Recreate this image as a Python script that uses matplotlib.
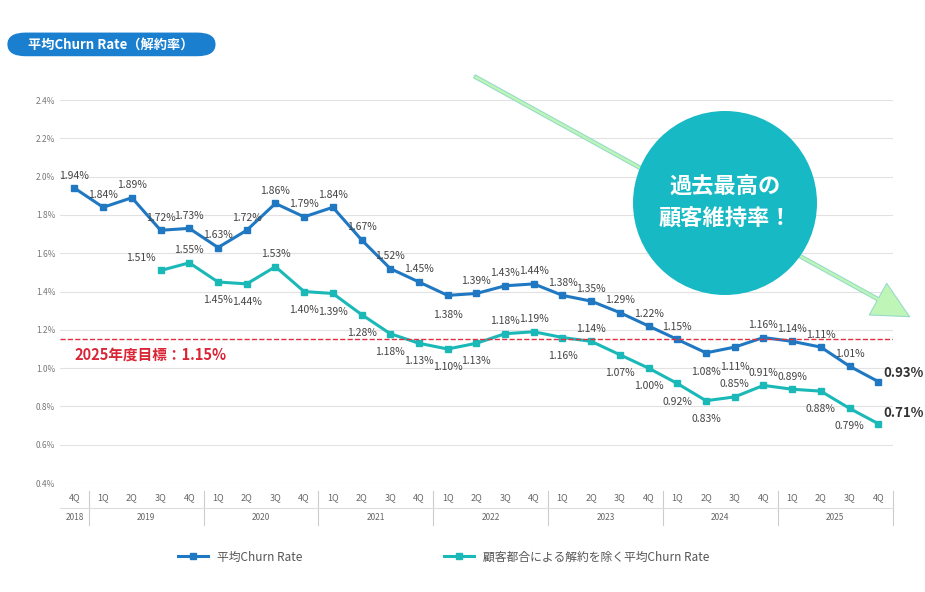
import matplotlib
matplotlib.use("Agg")
import matplotlib.pyplot as plt
from matplotlib.patches import FancyBboxPatch, Circle
plt.rcParams['font.family'] = ['Noto Sans CJK JP', 'DejaVu Sans']

quarters = ["4Q"] + ["1Q", "2Q", "3Q", "4Q"] * 7
years = ["2018", "2019", "2020", "2021", "2022", "2023", "2024", "2025"]
churn = [1.94, 1.84, 1.89, 1.72, 1.73, 1.63, 1.72, 1.86, 1.79, 1.84, 1.67, 1.52, 1.45,
         1.38, 1.39, 1.43, 1.44, 1.38, 1.35, 1.29, 1.22, 1.15, 1.08, 1.11, 1.16,
         1.14, 1.11, 1.01, 0.93]
churn_ex = [1.51, 1.55, 1.45, 1.44, 1.53, 1.40, 1.39, 1.28, 1.18, 1.13, 1.10, 1.13, 1.18,
            1.19, 1.16, 1.14, 1.07, 1.00, 0.92, 0.83, 0.85, 0.91, 0.89, 0.88, 0.79, 0.71]
target = 1.15

blue = "#1f78c1"
cyan = "#1bb8b8"
fig = plt.figure(figsize=(9.25, 5.92), dpi=100)
ax = fig.add_axes([0.065, 0.184, 0.9, 0.647])
x = list(range(len(churn)))
xe = x[3:]
ax.plot(x, churn, color=blue, lw=2.2, marker="s", ms=4.5, label="平均Churn Rate")
ax.plot(xe, churn_ex, color=cyan, lw=2.2, marker="s", ms=4.5, label="顧客都合による解約を除く平均Churn Rate")
ax.axhline(target, color="#e03040", lw=1, ls="--")
ax.text(0, target - 0.035, "2025年度目標：1.15%", color="#d92535", fontsize=10.5,
        fontweight="bold", va="top", ha="left")

blue_below = {13, 22, 23}
for i, v in enumerate(churn):
    dy = -14 if i in blue_below else 9
    if i == len(churn) - 1:
        ax.annotate(f"{v:.2f}%", (i, v), xytext=(4, 6), textcoords="offset points",
                    ha="left", va="center", fontsize=9.5, fontweight="bold", color="#333")
    else:
        ax.annotate(f"{v:.2f}%", (i, v), xytext=(0, dy), textcoords="offset points",
                    ha="center", va="center", fontsize=7.5, color="#444")
ex_above = {0, 1, 4, 12, 13, 15, 20, 21, 22}
for j, v in enumerate(churn_ex):
    i = xe[j]
    if j == len(churn_ex) - 1:
        ax.annotate(f"{v:.2f}%", (i, v), xytext=(4, 8), textcoords="offset points",
                    ha="left", va="center", fontsize=9.5, fontweight="bold", color="#333")
        continue
    dy = 9 if j in ex_above else -13
    dx = -14 if j == 0 else 0
    ax.annotate(f"{v:.2f}%", (i, v), xytext=(dx, dy), textcoords="offset points",
                ha="center", va="center", fontsize=7.5, color="#444")

ax.set_ylim(0.4, 2.4)
ax.set_xlim(-0.5, len(churn) - 0.5)
ax.set_yticks([0.4 + 0.2 * k for k in range(11)])
ax.set_yticklabels([f"{0.4 + 0.2 * k:.1f}%" for k in range(11)], fontsize=6, color="#777")
ax.grid(axis="y", color="#e2e2e2", lw=0.8)
ax.set_axisbelow(True)
for s in ax.spines.values():
    s.set_visible(False)
ax.tick_params(length=0)
ax.set_xticks(x)
ax.set_xticklabels(quarters, fontsize=6.5, color="#666")
ax.tick_params(axis="x", pad=7)
centers = [0] + [1 + 4 * k + 1.5 for k in range(7)]
for c, y in zip(centers, years):
    ax.text(c, -0.09, y, transform=ax.get_xaxis_transform(), ha="center", va="center",
            fontsize=6, color="#666")
for b in [0.5 + 4 * k for k in range(8)]:
    ax.plot([b, b], [-0.11, -0.02], transform=ax.get_xaxis_transform(), color="#ccc",
            lw=0.8, clip_on=False)
ax.plot([-0.5, len(churn) - 0.5], [-0.065, -0.065], transform=ax.get_xaxis_transform(),
        color="#ddd", lw=0.8, clip_on=False)

leg = fig.legend(loc="lower center", bbox_to_anchor=(0.48, 0.03), ncol=2, frameon=False,
                 fontsize=8.5, columnspacing=12, handlelength=2.5)
for t in leg.get_texts():
    t.set_color("#555")

fig.patches.append(FancyBboxPatch((0.008, 0.905), 0.225, 0.04, boxstyle="round,pad=0,rounding_size=0.02",
                                  transform=fig.transFigure, facecolor="#1a7fcf", edgecolor="none"))
fig.text(0.12, 0.925, "平均Churn Rate（解約率）", color="white", fontsize=9.5, fontweight="bold",
         ha="center", va="center")

ax2 = fig.add_axes([0, 0, 1, 1], facecolor="none")
ax2.set_xlim(0, 925); ax2.set_ylim(592, 0); ax2.axis("off")
ax2.annotate("", xy=(912, 318), xytext=(472, 75),
             arrowprops=dict(arrowstyle="simple,head_width=2.6,head_length=2.6,tail_width=0.25",
                             facecolor="#b8f5b0", edgecolor="#8ed8c8", lw=0.8, alpha=0.9))
ax2.add_patch(Circle((725, 203), 92, facecolor="#17b9c4", edgecolor="none", zorder=5))
ax2.text(725, 203, "過去最高の\n顧客維持率！", color="white", fontsize=16, fontweight="bold",
         ha="center", va="center", linespacing=1.5, zorder=6)

fig.savefig("out.png", dpi=100)
